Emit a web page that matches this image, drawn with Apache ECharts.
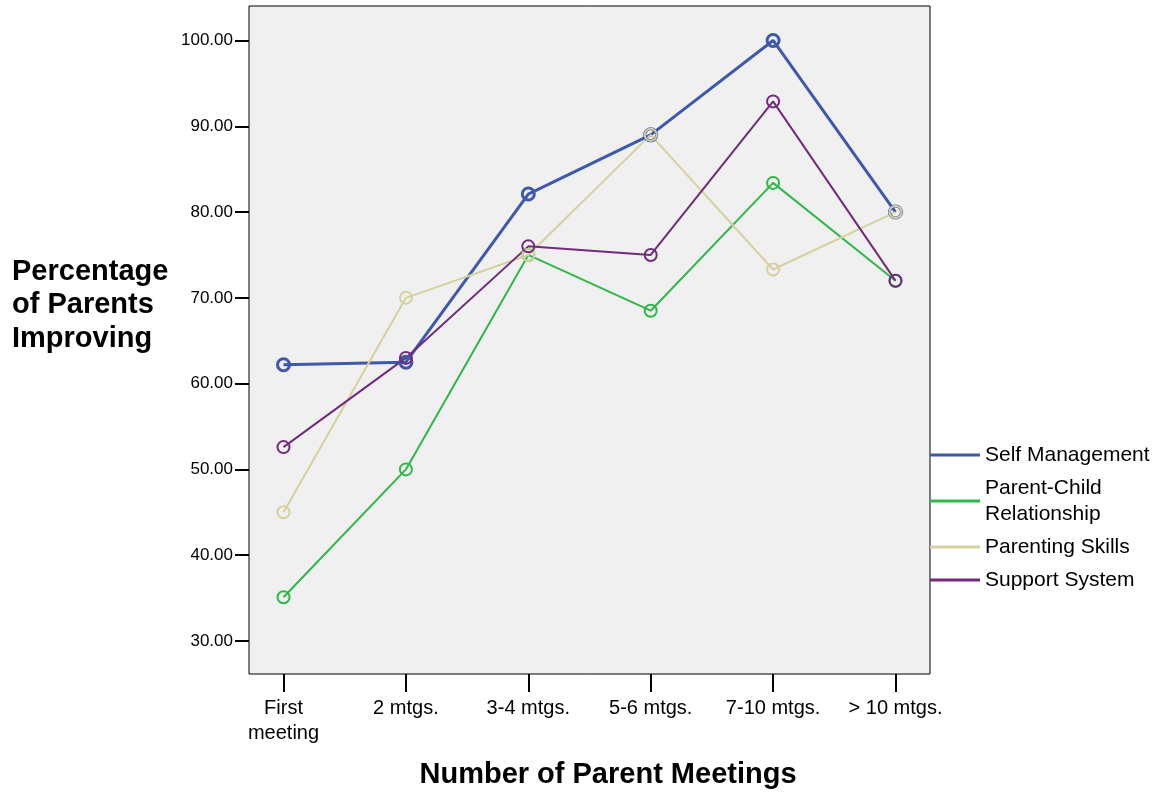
<!DOCTYPE html>
<html>
<head>
<meta charset="utf-8">
<script src="https://cdn.jsdelivr.net/npm/echarts@6/dist/echarts.min.js"></script>
<style>html,body{margin:0;padding:0;background:#fff}#c{width:1157px;height:792px}</style>
</head>
<body>
<div id="c"></div>
<script>
const categories = ['First\nmeeting', '2 mtgs.', '3-4 mtgs.', '5-6 mtgs.', '7-10 mtgs.', '> 10 mtgs.'];
const seriesNames = ['Self Management', 'Parent-Child Relationship', 'Parenting Skills', 'Support System'];
const selfManagement = [62.2, 62.5, 82.1, 89.0, 100.0, 80.0];
const parentChild = [35.1, 50.0, 75.0, 68.5, 83.4, 72.0];
const parentingSkills = [45.0, 70.0, 75.0, 89.0, 73.3, 80.0];
const supportSystem = [52.6, 63.0, 76.0, 75.0, 92.9, 72.0];
const yTicks = [30, 40, 50, 60, 70, 80, 90, 100];
const xTicks = [0, 1, 2, 3, 4, 5];

const FONT = '"Liberation Sans", Arial, sans-serif';
const COLORS = ['#3e58ac', '#2eb848', '#d6d19c', '#722a7c'];
const WIDTHS = [3, 2, 2, 2];
const toPairs = arr => arr.map((v, i) => [i, v]);

function lineSeries(idx, data) {
  const color = COLORS[idx], w = WIDTHS[idx];
  return {
    name: seriesNames[idx],
    type: 'line',
    data: toPairs(data),
    symbol: 'circle',
    symbolSize: 12,
    showSymbol: true,
    lineStyle: { color: color, width: w },
    itemStyle: { color: 'rgba(0,0,0,0)', borderColor: color, borderWidth: w },
    emphasis: { disabled: true },
    animation: false
  };
}

const chart = echarts.init(document.getElementById('c'), null, { renderer: 'canvas' });
chart.setOption({
  backgroundColor: '#ffffff',
  animation: false,
  grid: {
    left: 249, right: 227, top: 6, bottom: 118,
    show: true, backgroundColor: '#f0f0f0', borderColor: '#000', borderWidth: 1
  },
  xAxis: {
    type: 'value',
    min: -0.282, max: 5.282,
    axisLine: { show: false, onZero: false },
    splitLine: { show: false },
    axisTick: { show: true, customValues: xTicks, length: 18, lineStyle: { color: '#000', width: 2 } },
    axisLabel: {
      customValues: xTicks,
      formatter: v => categories[Math.round(v)],
      margin: 22, color: '#000', fontFamily: FONT, fontSize: 20, lineHeight: 25
    }
  },
  yAxis: {
    type: 'value',
    min: 26.15, max: 104.02,
    axisLine: { show: false, onZero: false },
    splitLine: { show: false },
    axisTick: { show: true, customValues: yTicks, length: 14, lineStyle: { color: '#000', width: 2 } },
    axisLabel: {
      customValues: yTicks,
      formatter: v => v.toFixed(2),
      margin: 16, color: '#000', fontFamily: FONT, fontSize: 17
    }
  },
  legend: {
    orient: 'vertical',
    left: 930, top: 442,
    padding: 0,
    itemGap: 7,
    itemWidth: 50,
    itemHeight: 3,
    icon: 'rect',
    selectedMode: false,
    formatter: n => n === 'Parent-Child Relationship' ? 'Parent-Child\nRelationship' : n,
    textStyle: { color: '#000', fontFamily: FONT, fontSize: 21, lineHeight: 26 },
    data: seriesNames.map((n, i) => ({ name: n, itemStyle: { color: COLORS[i], borderWidth: 0 } }))
  },
  graphic: [
    {
      type: 'text', x: 12, y: 255,
      style: { text: 'Percentage\nof Parents\nImproving', font: 'bold 29px ' + FONT, fill: '#000', lineHeight: 33.5, textAlign: 'left', textVerticalAlign: 'top' }
    },
    {
      type: 'text', x: 608, y: 775,
      style: { text: 'Number of Parent Meetings', font: 'bold 29px ' + FONT, fill: '#000', textAlign: 'center', textVerticalAlign: 'middle' }
    }
  ],
  series: [
    lineSeries(0, selfManagement),
    lineSeries(1, parentChild),
    lineSeries(2, parentingSkills),
    lineSeries(3, supportSystem)
  ]
});
</script>
</body>
</html>
